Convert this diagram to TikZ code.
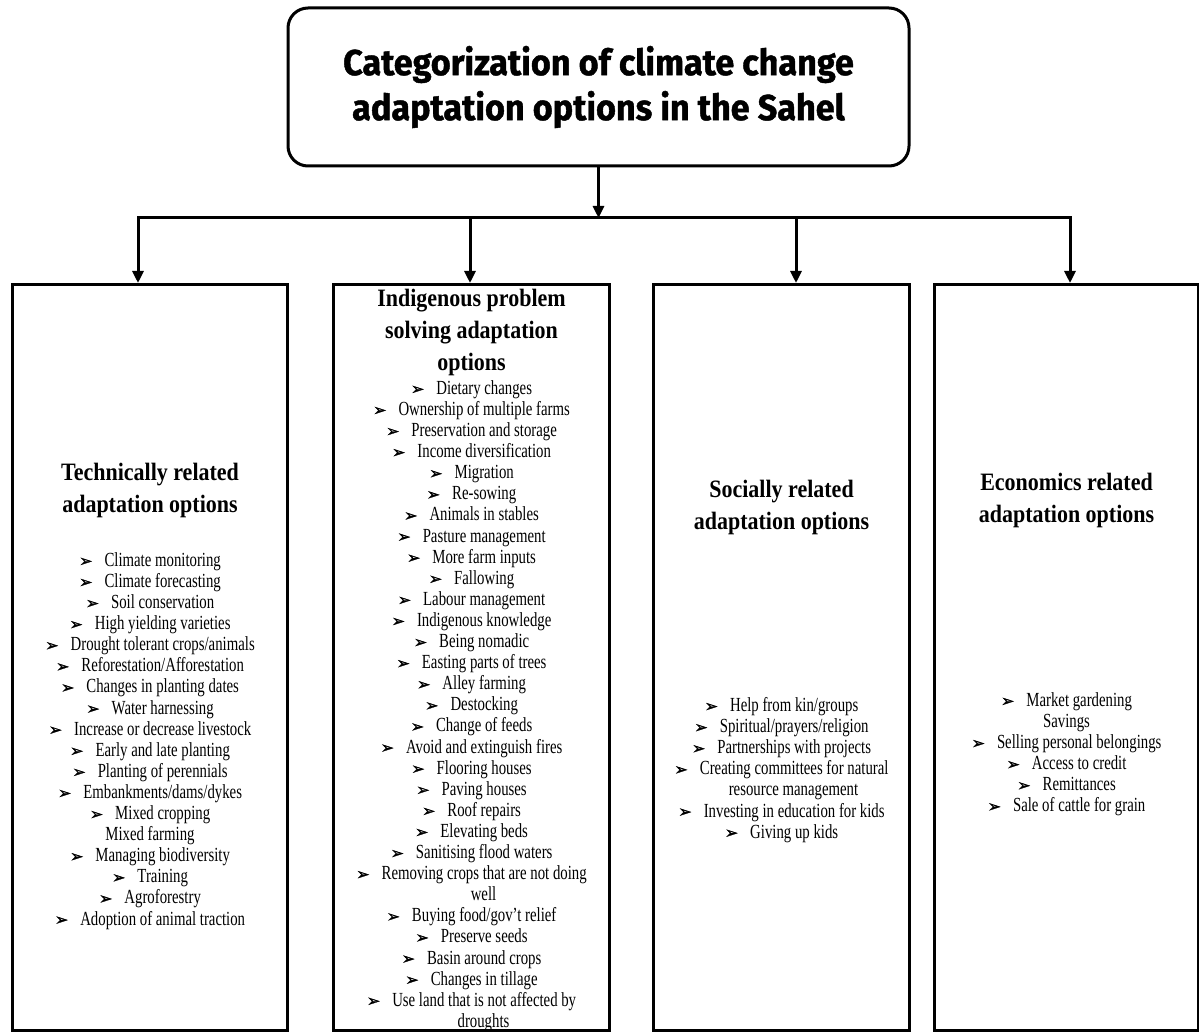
\documentclass[tikz,border=0pt]{standalone}
\usepackage{fontspec}
\setmainfont{Liberation Serif}[FakeStretch=0.74]
\newfontfamily\headfont{Liberation Serif}[FakeStretch=0.88]
\newfontfamily\titlefont{Fira Sans}[FakeStretch=0.95, FakeBold=1.2]
\newfontfamily\arrowfont{DejaVu Sans}[FakeBold=1.5]
\usetikzlibrary{arrows.meta,positioning}
% bullet used in the lists
\newcommand{\bul}{{\arrowfont\fontsize{8}{8}\selectfont ➢}\hspace{6pt}}
\begin{document}
\begin{tikzpicture}[x=0.5pt, y=-0.5pt, line width=1.5pt,
                    arr/.style={-{Triangle[length=6pt,width=5.5pt]}},
                    catbox/.style={draw, rectangle, anchor=north west, minimum height=373pt, inner sep=0pt},
                    head/.style={inner sep=0pt, align=center, font=\headfont\bfseries\fontsize{12.5}{16}\selectfont},
                    items/.style={inner sep=0pt, align=center, font=\fontsize{10}{10.55}\selectfont}]
\useasboundingbox (0,0) rectangle (1199,1032);
% title
\node[draw, rounded corners=10pt, minimum width=310.5pt, minimum height=79pt, align=center,
      font=\titlefont\bfseries\fontsize{18}{22.5}\selectfont] (title) at (598.5,87)
      {Categorization of climate change\\adaptation options in the Sahel};
% the four boxes
\node[catbox, minimum width=137.5pt] (tech) at (11,283) {};
\node[catbox, minimum width=138pt] (indig) at (332,283) {};
\node[catbox, minimum width=128pt] (social) at (652,283) {};
\node[catbox, minimum width=132pt] (econ) at (933,283) {};
% connectors
\coordinate (busL) at (138,218);
\coordinate (busR) at (1070,218);
\coordinate (d2) at (470,218);
\coordinate (d3) at (796,218);
\coordinate (busM) at (title.south |- busL);
\draw[arr] (title.south) -- (busM);
\draw[arr] (busM) -- (busL) -- (busL |- tech.north);
\draw[arr] (busM) -- (busR) -- (busR |- econ.north);
\foreach \d/\b in {d2/indig, d3/social}
    \draw[arr] (\d) -- (\d |- \b.north);
% technical
\node[head, below=89.5pt of tech.north] (techhead) {Technically related\\adaptation options};
\node[items, below=134pt of tech.north] (techlist) {\bul Climate monitoring\\
    \bul Climate forecasting\\
    \bul Soil conservation\\
    \bul High yielding varieties\\
    \bul Drought tolerant crops/animals\\
    \bul Reforestation/Afforestation\\
    \bul Changes in planting dates\\
    \bul Water harnessing\\
    \bul Increase or decrease livestock\\
    \bul Early and late planting\\
    \bul Planting of perennials\\
    \bul Embankments/dams/dykes\\
    \bul Mixed cropping\\
    Mixed farming\\
    \bul Managing biodiversity\\
    \bul Training\\
    \bul Agroforestry\\
    \bul Adoption of animal traction};
% indigenous
\node[head, below=2.5pt of indig.north] (indighead) {Indigenous problem\\solving adaptation\\options};
\node[items, below=48pt of indig.north] (indiglist) {\bul Dietary changes\\
    \bul Ownership of multiple farms\\
    \bul Preservation and storage\\
    \bul Income diversification\\
    \bul Migration\\
    \bul Re-sowing\\
    \bul Animals in stables\\
    \bul Pasture management\\
    \bul More farm inputs\\
    \bul Fallowing\\
    \bul Labour management\\
    \bul Indigenous knowledge\\
    \bul Being nomadic\\
    \bul Easting parts of trees\\
    \bul Alley farming\\
    \bul Destocking\\
    \bul Change of feeds\\
    \bul Avoid and extinguish fires\\
    \bul Flooring houses\\
    \bul Paving houses\\
    \bul Roof repairs\\
    \bul Elevating beds\\
    \bul Sanitising flood waters\\
    \bul Removing crops that are not doing\\
    \hspace*{12pt}well\\
    \bul Buying food/gov’t relief\\
    \bul Preserve seeds\\
    \bul Basin around crops\\
    \bul Changes in tillage\\
    \bul Use land that is not affected by\\
    \hspace*{12pt}droughts};
% social
\node[head, below=98pt of social.north] (socialhead) {Socially related\\adaptation options};
\node[items, below=206.5pt of social.north] (sociallist) {\bul Help from kin/groups\\
    \bul Spiritual/prayers/religion\\
    \bul Partnerships with projects\\
    \bul Creating committees for natural\\
    \hspace*{12pt}resource management\\
    \bul Investing in education for kids\\
    \bul Giving up kids};
% economics
\node[head, below=94.5pt of econ.north] (econhead) {Economics related\\adaptation options};
\node[items, below=204pt of econ.north] (econlist) {\bul Market gardening\\
    Savings\\
    \bul Selling personal belongings\\
    \bul Access to credit\\
    \bul Remittances\\
    \bul Sale of cattle for grain};
\end{tikzpicture}
\end{document}
